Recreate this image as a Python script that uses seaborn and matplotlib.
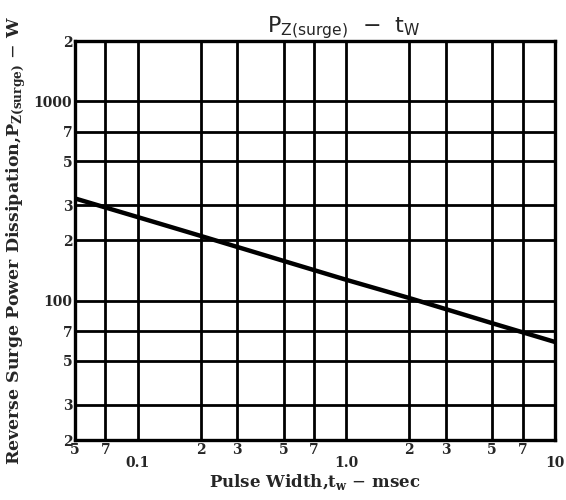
import pandas as pd
import seaborn as sns
import matplotlib.pyplot as plt
from matplotlib.ticker import FixedLocator, FixedFormatter, NullLocator

# pulse width (msec) vs reverse surge power dissipation (W)
pulse_width = [0.05, 0.1, 0.2, 0.5, 1.0, 2.0, 5.0, 10.0]
surge_power = [325, 262, 211, 158, 127, 103, 77, 62]

x_ticks = [0.05, 0.07, 0.1, 0.2, 0.3, 0.5, 0.7, 1.0, 2, 3, 5, 7, 10]
x_labels = ['5', '7', '\n0.1', '2', '3', '5', '7', '\n1.0', '2', '3', '5', '7', '\n10']
y_ticks = [20, 30, 50, 70, 100, 200, 300, 500, 700, 1000, 2000]
y_labels = ['2', '3', '5', '7', '100', '2', '3', '5', '7', '1000', '2']

df = pd.DataFrame({'tw': pulse_width, 'P': surge_power})

sns.set_style('white')
plt.rcParams['font.family'] = ['DejaVu Serif']

fig = plt.figure(figsize=(5.66, 5.0), dpi=100)
ax = fig.add_axes([0.1325, 0.12, 0.848, 0.798])

sns.lineplot(data=df, x='tw', y='P', color='black', linewidth=3.2, ax=ax)

ax.set_xscale('log')
ax.set_yscale('log')
ax.set_xlim(0.05, 10)
ax.set_ylim(20, 2000)

ax.xaxis.set_major_locator(FixedLocator(x_ticks))
ax.xaxis.set_major_formatter(FixedFormatter(x_labels))
ax.xaxis.set_minor_locator(NullLocator())
ax.yaxis.set_major_locator(FixedLocator(y_ticks))
ax.yaxis.set_major_formatter(FixedFormatter(y_labels))
ax.yaxis.set_minor_locator(NullLocator())

ax.grid(True, which='major', color='black', linewidth=2.0)
for s in ax.spines.values():
    s.set_color('black')
    s.set_linewidth(2.4)
ax.tick_params(length=0, pad=2, labelsize=10)
for lab in ax.get_xticklabels() + ax.get_yticklabels():
    lab.set_fontweight('bold')
    lab.set_linespacing(0.9)

ax.set_xlabel(r'Pulse Width,t$_\mathregular{w}$ $-$ msec', fontsize=12, fontweight='bold', labelpad=2)
ax.set_ylabel(r'Reverse Surge Power Dissipation,P$_\mathregular{Z(surge)}$ $-$ W',
              fontsize=12.5, fontweight='bold', labelpad=4)
ax.set_title(r'P$_\mathregular{Z(surge)}$  $-$  t$_\mathregular{W}$', fontsize=16,
             family='DejaVu Sans', pad=6, x=0.56)

fig.savefig('out.png', dpi=100)
